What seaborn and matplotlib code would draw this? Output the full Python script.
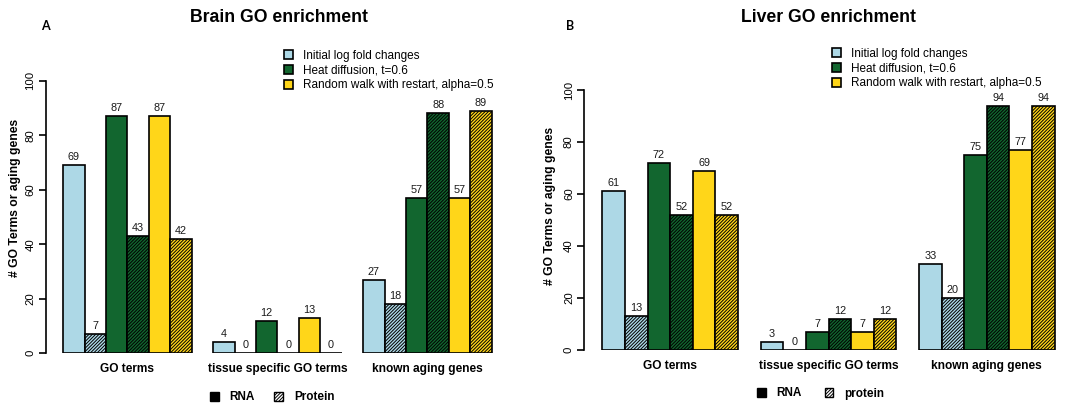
import numpy as np
import pandas as pd
import matplotlib
matplotlib.use("Agg")
import matplotlib.pyplot as plt
from matplotlib.patches import Patch
import seaborn as sns

# ---- data -------------------------------------------------------------
groups = ["GO terms", "tissue specific GO terms", "known aging genes"]
methods = ["Initial log fold changes", "Heat diffusion, t=0.6",
           "Random walk with restart, alpha=0.5"]

brain_initial_rna = [69, 4, 27]
brain_initial_protein = [7, 0, 18]
brain_heat_rna = [87, 12, 57]
brain_heat_protein = [43, 0, 88]
brain_rwr_rna = [87, 13, 57]
brain_rwr_protein = [42, 0, 89]

liver_initial_rna = [61, 3, 33]
liver_initial_protein = [13, 0, 20]
liver_heat_rna = [72, 7, 75]
liver_heat_protein = [52, 12, 94]
liver_rwr_rna = [69, 7, 77]
liver_rwr_protein = [52, 12, 94]

y_ticks = [0, 20, 40, 60, 80, 100]

method_colors = ["#add8e6", "#12662f", "#ffd619"]
HATCH = "//////////"

# ---- style ------------------------------------------------------------
sns.set_style("white")
plt.rcParams["font.family"] = ["Liberation Sans", "DejaVu Sans"]
plt.rcParams["hatch.linewidth"] = 0.7
for key in ("text.color", "axes.labelcolor", "xtick.color", "ytick.color"):
    plt.rcParams[key] = "black"

W, H = 1071, 403
fig = plt.figure(figsize=(W / 100, H / 100), dpi=100)

series_order = []
palette = {}
for m, c in zip(methods, method_colors):
    for kind in ("RNA", "Protein"):
        key = f"{m} | {kind}"
        series_order.append(key)
        palette[key] = c

# x-range: half a group (3 bars) plus 0.8 bar of margin on each side
X_PAD = 3.8 / 7
X_SPAN = 2 + 2 * X_PAD


def long_table(columns):
    rows = []
    for key, vals in zip(series_order, columns):
        for g, v in zip(groups, vals):
            rows.append({"group": g, "series": key, "value": v})
    return pd.DataFrame(rows)


def px_axes(left, right, y0, y100):
    """Axes rectangle from pixel positions of the plot frame."""
    return fig.add_axes([left / W, 1 - y0 / H, (right - left) / W, (y0 - y100) / H])


def draw_panel(ax, df, ylab_x, ylab_y):
    sns.barplot(data=df, x="group", y="value", hue="series",
                hue_order=series_order, palette=palette, order=groups,
                width=6 / 7, gap=0, dodge=True, saturation=1,
                edgecolor="black", linewidth=1.2, errorbar=None,
                legend=False, ax=ax)
    for i, cont in enumerate(ax.containers):
        if i % 2 == 1:
            for bar in cont:
                bar.set_hatch(HATCH)
        ax.bar_label(cont, fmt="{:.0f}", padding=2.2, fontsize=7.8,
                     color="#1a1a1a")
    ax.set_xlim(-X_PAD, 2 + X_PAD)
    ax.set_ylim(0, 100)
    ax.set_yticks(y_ticks)
    ax.set_yticklabels([str(t) for t in y_ticks], rotation=90, va="center",
                       fontsize=8.2)
    ax.tick_params(axis="y", direction="out", length=5, width=1.2, pad=2.5,
                   left=True, color="black")
    ax.tick_params(axis="x", length=0, pad=7)
    for lab in ax.get_xticklabels():
        lab.set_fontweight("bold")
        lab.set_fontsize(8.6)
    ax.set_xlabel("")
    ax.set_ylabel("# GO Terms or aging genes", fontweight="bold", fontsize=8.7)
    ax.yaxis.set_label_coords(ylab_x, ylab_y)
    for s in ("top", "right", "bottom"):
        ax.spines[s].set_visible(False)
    ax.spines["left"].set_bounds(0, 100)
    ax.spines["left"].set_linewidth(1.2)
    ax.spines["left"].set_color("black")
    ax.patch.set_alpha(0)


method_handles = [Patch(facecolor=c, edgecolor="black", linewidth=1.2, label=m)
                  for m, c in zip(methods, method_colors)]


def method_legend(x, y):
    fig.legend(handles=method_handles, loc="upper left",
               bbox_to_anchor=(x / W, 1 - y / H), frameon=False, fontsize=8.5,
               handlelength=0.75, handleheight=0.75, handletextpad=0.85,
               labelspacing=0.25, borderpad=0, borderaxespad=0)


def kind_legend(x, y, protein_label, colspace):
    handles = [Patch(facecolor="black", edgecolor="black", label="RNA"),
               Patch(facecolor="white", edgecolor="black", hatch=HATCH,
                     label=protein_label)]
    leg = fig.legend(handles=handles, loc="upper left", ncol=2,
                     bbox_to_anchor=(x / W, 1 - y / H), frameon=False,
                     fontsize=8.5, handlelength=0.75, handleheight=0.75,
                     handletextpad=0.9, columnspacing=colspace,
                     borderpad=0, borderaxespad=0)
    for t in leg.get_texts():
        t.set_fontweight("bold")


# ---- panel A: brain ---------------------------------------------------
axA = px_axes(46, 46 + X_SPAN * 150, 353.3, 80.7)
dfA = long_table([brain_initial_rna, brain_initial_protein, brain_heat_rna,
                  brain_heat_protein, brain_rwr_rna, brain_rwr_protein])
draw_panel(axA, dfA, -0.054, 0.571)
fig.text(278.5 / W, 1 - 17.5 / H, "Brain GO enrichment", ha="center",
         va="center", fontsize=12.7, fontweight="bold")
fig.text(45.5 / W, 1 - 26 / H, "A", ha="center", va="center", fontsize=9,
         fontweight="bold", family=["Lato", "DejaVu Sans"])
method_legend(284, 49.5)
kind_legend(210, 391.5, "Protein", 1.65)

# ---- panel B: liver ---------------------------------------------------
axB = px_axes(584.3, 584.3 + X_SPAN * 158.3, 350, 90)
dfB = long_table([liver_initial_rna, liver_initial_protein, liver_heat_rna,
                  liver_heat_protein, liver_rwr_rna, liver_rwr_protein])
draw_panel(axB, dfB, -0.058, 0.555)
fig.text(828.7 / W, 1 - 18 / H, "Liver GO enrichment", ha="center",
         va="center", fontsize=12.7, fontweight="bold")
fig.text(570 / W, 1 - 26 / H, "B", ha="center", va="center", fontsize=9,
         fontweight="bold", family=["Lato", "DejaVu Sans"])
method_legend(831.7, 47.5)
kind_legend(756.7, 387.5, "protein", 1.95)

fig.savefig("out.png", dpi=100)
